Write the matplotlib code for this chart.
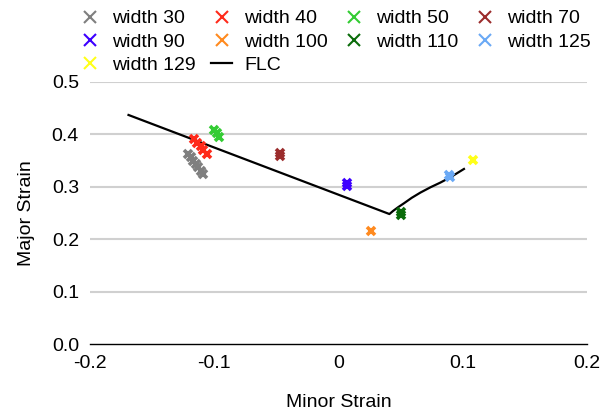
# FLC chart: major vs minor strain, scatter of specimen widths + forming limit curve

import matplotlib
matplotlib.use("Agg")
import matplotlib.pyplot as plt
from matplotlib.lines import Line2D

plt.rcParams['font.family'] = ['Liberation Sans', 'DejaVu Sans']

# ============================
# data
# ============================

labels = ["width 30", "width 40", "width 50", "width 70", "width 90",
          "width 100", "width 110", "width 125", "width 129"]
colors = ["#7f7f7f", "#ff2a1a", "#33cc33", "#9b2c2c", "#3d00ff",
          "#ff8a1f", "#0a6b0a", "#6aa9f5", "#ffff19"]

minor_30 = [-0.121, -0.119, -0.117, -0.115, -0.113, -0.111, -0.109]
major_30 = [0.362, 0.356, 0.350, 0.344, 0.338, 0.331, 0.325]
minor_40 = [-0.116, -0.114, -0.111, -0.109, -0.106]
major_40 = [0.392, 0.384, 0.377, 0.370, 0.362]
minor_50 = [-0.100, -0.098, -0.096]
major_50 = [0.409, 0.402, 0.395]
minor_70 = [-0.047, -0.047]
major_70 = [0.364, 0.359]
minor_90 = [0.007, 0.007]
major_90 = [0.308, 0.302]
minor_100 = [0.026]
major_100 = [0.215]
minor_110 = [0.050, 0.050]
major_110 = [0.252, 0.247]
minor_125 = [0.089, 0.090]
major_125 = [0.323, 0.319]
minor_129 = [0.108]
major_129 = [0.352]

flc_minor = [-0.169, 0.041, 0.044, 0.048, 0.053, 0.059, 0.066, 0.074, 0.082, 0.090, 0.101]
flc_major = [0.437, 0.248, 0.254, 0.261, 0.269, 0.279, 0.289, 0.299, 0.308, 0.318, 0.334]

series = [(minor_30, major_30), (minor_40, major_40), (minor_50, major_50),
          (minor_70, major_70), (minor_90, major_90), (minor_100, major_100),
          (minor_110, major_110), (minor_125, major_125), (minor_129, major_129)]

x_ticks = [-0.2, -0.1, 0, 0.1, 0.2]
x_tick_labels = ["-0.2", "-0.1", "0", "0.1", "0.2"]
y_ticks = [0.0, 0.1, 0.2, 0.3, 0.4, 0.5]
y_tick_labels = ["0.0", "0.1", "0.2", "0.3", "0.4", "0.5"]

# ============================
# plot
# ============================

fig = plt.figure(figsize=(6.02, 4.16), dpi=100)
ax = fig.add_axes([0.1495, 0.173, 0.8255, 0.630])

for yt in y_ticks[1:]:
    ax.axhline(yt, color="#d0d0d0", lw=1.5, zorder=0)

ax.plot(flc_minor, flc_major, color="black", lw=1.6, zorder=2)

for (xs, ys), c in zip(series, colors):
    ax.plot(xs, ys, linestyle="none", marker="x", color=c,
            markersize=6, markeredgewidth=2.6, zorder=3)

ax.set_xlim(-0.2, 0.2)
ax.set_ylim(0, 0.5)
ax.set_xticks(x_ticks)
ax.set_xticklabels(x_tick_labels)
ax.set_yticks(y_ticks)
ax.set_yticklabels(y_tick_labels)
ax.tick_params(length=0, labelsize=14, pad=8)
for s in ["top", "right", "left"]:
    ax.spines[s].set_visible(False)
ax.spines["bottom"].set_color("black")
ax.spines["bottom"].set_linewidth(1.0)

ax.set_xlabel("Minor Strain", fontsize=14, labelpad=16)
ax.set_ylabel("Major Strain", fontsize=14, labelpad=12)

# legend (row-major order in reference -> reorder for column filling)
handles = [Line2D([], [], linestyle="none", marker="x", color=c,
                  markersize=9, markeredgewidth=1.5) for c in colors]
flc_handle = Line2D([], [], color="black", lw=1.6)
blank = Line2D([], [], linestyle="none")

order = [
    (handles[0], labels[0]), (handles[4], labels[4]), (handles[8], labels[8]),
    (handles[1], labels[1]), (handles[5], labels[5]), (flc_handle, "FLC"),
    (handles[2], labels[2]), (handles[6], labels[6]), (blank, ""),
    (handles[3], labels[3]), (handles[7], labels[7]),
]
fig.legend([h for h, _ in order], [l for _, l in order], ncol=4,
           loc="upper left", bbox_to_anchor=(0.118, 0.995), frameon=False,
           fontsize=14, handlelength=1.1, handletextpad=0.6,
           columnspacing=0.8, labelspacing=0.28, borderaxespad=0)

fig.savefig("out.png", dpi=100)
